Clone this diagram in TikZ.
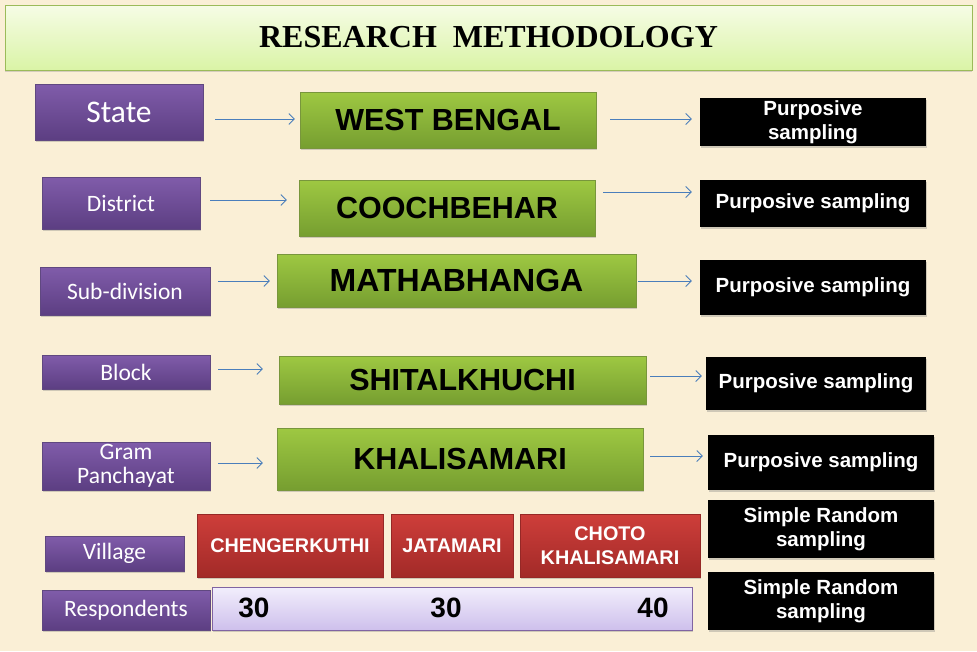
\documentclass[tikz,border=0pt]{standalone}
\usepackage{fontspec}
\setmainfont{Liberation Sans}
\newfontfamily\carl{Carlito}
\newfontfamily\tms{Liberation Serif}
\usetikzlibrary{arrows.meta,shadows}
\definecolor{bgc}{HTML}{FAEFD6}
\definecolor{arrc}{HTML}{4A7EBB}
\tikzset{
  base/.style={inner sep=0pt, align=center, drop shadow={shadow xshift=1pt, shadow yshift=-1.5pt, opacity=0.35}},
  purp/.style={base, top color={rgb,255:red,128;green,92;blue,170}, bottom color={rgb,255:red,92;green,62;blue,130}, draw={rgb,255:red,96;green,72;blue,128}, line width=0.3pt, text=white, font=\carl\fontsize{23.5}{25}\selectfont},
  grn/.style={base, top color={rgb,255:red,158;green,200;blue,66}, bottom color={rgb,255:red,118;green,158;blue,48}, draw={rgb,255:red,120;green,150;blue,60}, line width=0.3pt, text=black, font=\bfseries\fontsize{30.5}{32}\selectfont},
  blk/.style={base, fill=black, text=white, font=\bfseries\fontsize{20.5}{24}\selectfont},
  redb/.style={base, top color={rgb,255:red,206;green,62;blue,58}, bottom color={rgb,255:red,162;green,42;blue,40}, draw={rgb,255:red,150;green,40;blue,38}, line width=0.3pt, text=white, font=\bfseries\fontsize{19.8}{24}\selectfont},
  lav/.style={base, top color={rgb,255:red,242;green,238;blue,252}, bottom color={rgb,255:red,206;green,192;blue,236}, draw={rgb,255:red,128;green,100;blue,162}, line width=0.6pt},
  num/.style={inner sep=0pt, font=\bfseries\fontsize{28}{30}\selectfont},
  arr/.style={draw=arrc, line width=0.8pt, -{Straight Barb[length=5.5pt,width=11pt]}},
}
\begin{document}
\begin{tikzpicture}[x=1pt,y=-1pt]
\fill[bgc] (0,0) rectangle (977,651);
\useasboundingbox (0,0) rectangle (977,651);
% title
\node[inner sep=0pt, top color={rgb,255:red,246;green,252;blue,230}, bottom color={rgb,255:red,218;green,244;blue,166}, draw={rgb,255:red,155;green,187;blue,89}, line width=1pt, minimum width=967pt, minimum height=65pt, drop shadow={shadow xshift=0pt, shadow yshift=-2pt, opacity=0.3}] (t) at (488.5,37.5) {\tms\bfseries\fontsize{32}{34}\selectfont RESEARCH\ \ METHODOLOGY};
% purple
\node[purp, minimum width=168pt, minimum height=56pt, font=\carl\fontsize{31.5}{33}\selectfont] (s1) at (119,112) {State};
\node[purp, minimum width=158pt, minimum height=52pt] (s2) at (121,203) {District};
\node[purp, minimum width=170pt, minimum height=48pt] (s3) at (125,291) {Sub-division};
\node[purp, minimum width=168pt, minimum height=34pt] (s4) at (126,372) {Block};
\node[purp, minimum width=168pt, minimum height=48pt] (s5) at (126,466) {Gram\\[-1pt]Panchayat};
\node[purp, minimum width=139pt, minimum height=35pt] (s6) at (114.5,553.5) {Village};
\node[purp, minimum width=168pt, minimum height=40pt] (s7) at (126,610) {Respondents};
% green
\node[grn, minimum width=296pt, minimum height=56pt] (w1) at (448,120) {WEST BENGAL};
\node[grn, minimum width=296pt, minimum height=56pt] (w2) at (447,208) {COOCHBEHAR};
\node[grn, minimum width=359pt, minimum height=53pt, font=\bfseries\fontsize{32}{34}\selectfont] (w3) at (456.5,280.5) {MATHABHANGA};
\node[grn, minimum width=367pt, minimum height=48pt] (w4) at (462.5,380) {SHITALKHUCHI};
\node[grn, minimum width=366pt, minimum height=62pt] (w5) at (460,459) {KHALISAMARI};
% black
\node[blk, minimum width=226pt, minimum height=48pt] (b1) at (813,122) {Purposive\\sampling};
\node[blk, minimum width=226pt, minimum height=47pt] (b2) at (813,203.5) {Purposive sampling};
\node[blk, minimum width=226pt, minimum height=55pt] (b3) at (813,287.5) {Purposive sampling};
\node[blk, minimum width=220pt, minimum height=53pt] (b4) at (816,383.5) {Purposive sampling};
\node[blk, minimum width=226pt, minimum height=55pt] (b5) at (821,462.5) {Purposive sampling};
\node[blk, minimum width=226pt, minimum height=58pt] (b6) at (821,529) {Simple Random\\sampling};
\node[blk, minimum width=226pt, minimum height=58pt] (b7) at (821,601) {Simple Random\\sampling};
% red
\node[redb, minimum width=186pt, minimum height=63pt] (r1) at (290,545.5) {CHENGERKUTHI};
\node[redb, minimum width=122pt, minimum height=63pt] (r2) at (452,545.5) {JATAMARI};
\node[redb, minimum width=180pt, minimum height=63pt] (r3) at (610,545.5) {CHOTO\\KHALISAMARI};
% respondents bar
\node[lav, minimum width=480pt, minimum height=43pt] (bar) at (452,608.5) {};
\node[num] (n1) at (254,608) {30};
\node[num] (n2) at (446,608) {30};
\node[num] (n3) at (653,608) {40};
% arrows
\draw[arr] ([xshift=12pt,yshift=-7pt]s1.east) -- ([xshift=-5pt,yshift=1pt]w1.west);
\draw[arr] ([xshift=14pt,yshift=1pt]w1.east) -- ([xshift=-8pt,yshift=3pt]b1.west);
\draw[arr] ([xshift=10pt,yshift=3pt]s2.east) -- ([xshift=-12pt,yshift=8pt]w2.west);
\draw[arr] ([xshift=8pt,yshift=16pt]w2.east) -- ([xshift=-8pt,yshift=11.5pt]b2.west);
\draw[arr] ([xshift=8pt,yshift=10pt]s3.east) -- ([xshift=-7pt,yshift=-0.5pt]w3.west);
\draw[arr] ([xshift=2pt,yshift=-0.5pt]w3.east) -- ([xshift=-8pt,yshift=6.5pt]b3.west);
\draw[arr] ([xshift=8pt,yshift=3pt]s4.east) -- ([xshift=-16pt,yshift=11pt]w4.west);
\draw[arr] ([xshift=4pt,yshift=4pt]w4.east) -- ([xshift=-4pt,yshift=7.5pt]b4.west);
\draw[arr] ([xshift=8pt,yshift=3pt]s5.east) -- ([xshift=-14pt,yshift=-4pt]w5.west);
\draw[arr] ([xshift=7pt,yshift=3pt]w5.east) -- ([xshift=-5pt,yshift=6.5pt]b5.west);
\end{tikzpicture}
\end{document}
